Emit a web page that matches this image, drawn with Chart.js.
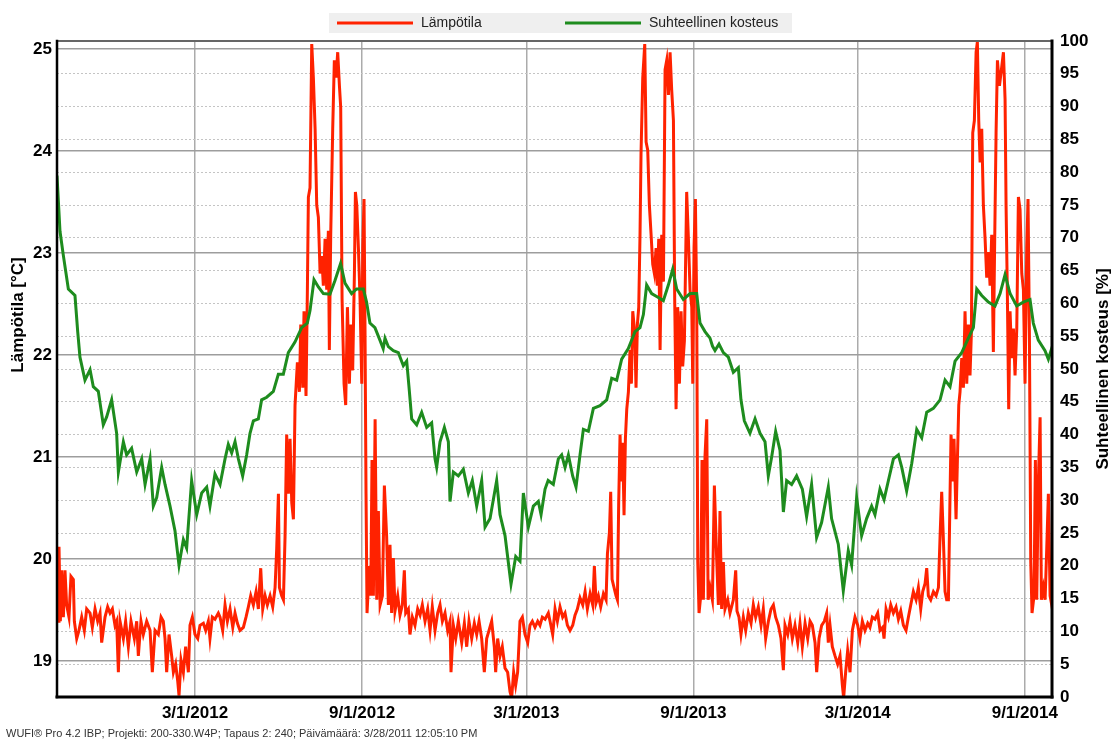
<!DOCTYPE html>
<html>
<head>
<meta charset="utf-8">
<title>Lämpötila ja suhteellinen kosteus</title>
<script src="https://cdn.jsdelivr.net/npm/chart.js"></script>
<style>
    body { margin: 0; background: #fff; }
    canvas { display: block; }
</style>
</head>
<body>
<canvas id="wufiChart" width="1113" height="740"></canvas>

<script>
    // x values are days counted from 10/1/2011
    const startDate = Date.UTC(2011, 9, 1);
    const dateLabels = ['3/1/2012', '9/1/2012', '3/1/2013', '9/1/2013', '3/1/2014', '9/1/2014'];
    const tempTicks = [19, 20, 21, 22, 23, 24, 25];
    const rhTicks = [0, 5, 10, 15, 20, 25, 30, 35, 40, 45, 50, 55, 60, 65, 70, 75, 80, 85, 90, 95, 100];

    // Lämpötila [°C], [day, value]
    const tempWinter1 = [[0,19.39],[1.5,19.39],[2.2,20.12],[3.7,19.39],[5.1,19.89],[7,19.43],[8.8,19.89],[10.6,19.55],[13.2,19.43],[15.4,19.83],[18,19.8],[19.1,19.39],[21.7,19.22],[24.2,19.3],[27.2,19.43],[30.1,19.3],[32.7,19.51],[36.4,19.47],[38.9,19.33],[41.9,19.51],[44.8,19.39],[47.4,19.47],[49.2,19.18],[52.9,19.43],[55.8,19.53],[58.4,19.47],[61,19.51],[63.9,19.35],[65.7,19.39],[67.6,18.89],[69.4,19.39],[73.1,19.22],[75.6,19.39],[78.6,19.14],[81.5,19.39],[85.2,19.22],[87.8,19.39],[89.6,19.05],[92.5,19.39],[95.1,19.26],[98.8,19.39],[102.5,19.3],[105,18.89],[108,19.3],[111.6,19.26],[114.6,19.43],[117.1,19.39],[119,19.22],[120.8,18.89],[123.4,19.26],[126.3,19.05],[128.2,18.89],[130.7,18.97],[133,18.8],[134.4,18.66],[136.6,19.01],[139.2,18.89],[141.7,19.14],[144.7,18.89],[146.5,19.35],[149.1,19.43],[152,19.26],[155,19.22],[157.5,19.35],[161.2,19.37],[163.8,19.3],[166.7,19.39],[168.5,19.22],[171.1,19.43],[174,19.41],[177.7,19.47]];
    const tempSummer1 = [[179.6,19.43],[182.5,19.3],[185.1,19.55],[187.7,19.39],[190.6,19.51],[193.6,19.33],[196.1,19.47],[198.7,19.37],[201.6,19.3],[205.3,19.33],[208.2,19.43],[210.8,19.53],[213.4,19.64],[216.3,19.55],[219.3,19.68],[221.8,19.51],[224.4,19.91],[226.6,19.51],[229.2,19.64],[231.7,19.55],[234.7,19.64],[237.6,19.53],[240.2,19.72],[242,20.1],[243.9,20.64],[245,19.72],[247.5,19.64],[249.4,19.6],[251.2,20.22],[253,21.22],[254.9,20.64],[256.7,21.18],[258.6,20.55],[260.4,20.39],[262.2,21.51],[264.8,21.93],[267,21.64],[268.5,22.3],[270.7,21.68],[272.1,22.43],[274.3,21.6],[275.8,22.64],[276.9,23.55],[278.7,23.64],[280.6,25.05],[282.4,24.72],[284.3,24.22],[286.1,23.47],[287.9,23.35],[289.8,22.8],[291.6,22.97],[293.4,22.68],[295.3,23.14],[297.1,22.64],[298.9,23.22],[300,22.05],[301.5,23.18],[303.7,24.22],[305.5,24.89],[307.4,24.72],[309.2,24.97],[311.1,24.64],[312.5,24.43],[314,22.55],[316.2,21.72],[318,21.51],[319.9,22.47],[322.1,21.72],[323.5,22.3],[325.7,21.85],[327.6,22.8],[328.7,23.6],[330.2,23.47],[332,23.05],[333.8,22.55],[335.7,21.72],[336.8,23.05],[338.2,23.53],[339.3,22.22],[340.4,20.64],[341.5,19.47],[344.1,19.93],[345.6,19.64],[347,20.97],[348.5,19.64],[350.4,21.37],[352.2,19.6],[354,20.47],[355.9,19.55],[358.4,19.64],[360.6,20.72]];
    const tempWinter2 = [[363.1,20.22],[365,19.55],[366.8,20.14],[368.6,19.47],[370.5,20.01],[372.3,19.49],[375.3,19.64],[377.8,19.45],[380.4,19.55],[382.6,19.89],[384.1,19.47],[387,19.51],[388.8,19.26],[391.4,19.43],[394.3,19.35],[397.3,19.51],[399.9,19.45],[402.4,19.55],[405.4,19.39],[408.3,19.51],[410.9,19.3],[413.4,19.53],[416.4,19.3],[419.3,19.47],[421.9,19.55],[424.5,19.39],[427.4,19.47],[430.3,19.3],[432.9,19.39],[434,18.89],[436.6,19.35],[439.2,19.22],[442.1,19.39],[445.8,19.18],[448.7,19.37],[451.3,19.14],[453.8,19.39],[456.8,19.22],[459.7,19.37],[462.3,19.26],[464.9,19.39],[467.8,19.22],[470.7,18.89],[473.3,19.22],[475.9,19.3],[478.8,19.39],[481.7,19.14],[483.2,18.89],[485.4,19.22],[488,19.05],[490.5,19.14],[493.5,18.93],[496.4,18.89],[499,18.7],[500.8,18.64],[503,18.89],[505.2,18.76],[507.4,18.89],[510,19.39],[512.6,19.43],[515.5,19.26],[518.5,19.18],[521,19.35],[523.6,19.39],[526.5,19.33],[529.5,19.39],[532,19.35],[534.6,19.43],[537.6,19.41],[541.2,19.47]];
    const tempSummer2 = [[543.1,19.39],[546,19.26],[548.6,19.51],[551.2,19.39],[554.1,19.53],[557,19.43],[559.6,19.47],[562.2,19.35],[565.1,19.3],[568.1,19.35],[570.6,19.45],[573.2,19.51],[576.1,19.62],[579.1,19.55],[581.7,19.68],[584.2,19.51],[587.2,19.66],[590.1,19.55],[591.9,19.93],[593.8,19.57],[596.3,19.64],[598.9,19.53],[601.9,19.66],[604.8,19.6],[606.3,20.05],[608.5,20.26],[609.9,20.66],[611.4,19.8],[613.6,19.72],[615.8,19.64],[617.3,19.6],[618.7,20.55],[620.2,21.22],[621.7,20.76],[623.1,21.14],[624.6,20.43],[626.1,21.18],[627.6,21.47],[629.4,21.64],[631.2,22.05],[632.7,21.72],[634.2,22.43],[636.4,22.22],[637.8,21.68],[639.3,22.3],[640.8,22.47],[642.2,23.18],[643.3,23.97],[645.2,24.72],[647.4,25.05],[648.9,24.09],[650.7,24.01],[652.5,23.47],[654.4,23.18],[656.2,22.89],[658,22.8],[659.9,23.05],[661.3,22.68],[662.8,23.14],[664.3,22.05],[666.1,23.18],[668,22.72],[669.8,24.8],[671.6,24.89],[673.5,24.55],[675.3,24.97],[677.1,24.6],[679,24.3],[680.4,22.55],[681.9,21.47],[683.7,22.47],[685.6,21.72],[687.4,22.43],[689.2,21.89],[691.1,22.14],[693.6,23.6],[695.5,23.14],[697.3,22.64],[699.2,22.47],[700.3,21.72],[701.7,23.05],[703.2,23.53],[704.7,22.43],[705.8,19.97],[707.2,19.47],[709.1,19.64],[710.5,20.97],[712,19.6],[713.8,21.01],[715.7,21.37],[717.2,19.6],[719.4,19.72],[721.9,19.6],[724.1,20.72]];
    const tempWinter3 = [[726.6,20.01],[728.5,19.55],[730.3,20.47],[732.1,19.51],[734,19.97],[735.8,19.51],[738.8,19.6],[741.3,19.47],[745,19.6],[747.6,19.89],[749,19.49],[751.2,19.43],[753.4,19.26],[756,19.43],[758.6,19.3],[761.5,19.47],[764.5,19.37],[767,19.55],[769.6,19.43],[772.5,19.53],[775.5,19.35],[778,19.51],[780.6,19.22],[783.6,19.39],[786.5,19.51],[789.1,19.55],[791.6,19.43],[794.6,19.35],[797.5,19.22],[800.1,18.91],[801.9,19.35],[804.9,19.26],[807.4,19.39],[810,19.22],[812.9,19.35],[815.9,19.18],[818.4,19.37],[821,19.14],[824,19.37],[826.9,19.22],[829.5,19.39],[832,19.35],[835,19.18],[836.8,18.89],[839.4,19.22],[842.3,19.35],[845.2,19.39],[847.8,19.47],[849.6,19.18],[851.5,19.35],[854,19.14],[857,19.05],[859.9,18.97],[862.5,19.05],[865.1,18.76],[866.5,18.64],[868.7,18.89],[870.9,19.1],[873.5,18.89],[876.1,19.3],[879,19.43],[882,19.35],[884.5,19.22],[887.1,19.39],[890,19.3],[893,19.37],[895.5,19.33],[898.1,19.43],[901,19.41],[904,19.47],[906.6,19.3]];
    const tempSummer3 = [[909.5,19.33],[911,19.22],[913.2,19.51],[915.8,19.43],[918.4,19.55],[921.3,19.47],[924.2,19.53],[926.8,19.41],[929.4,19.49],[932.3,19.35],[935.2,19.3],[937.8,19.43],[940.4,19.55],[943.3,19.68],[946.3,19.6],[948.8,19.72],[951.4,19.51],[953.6,19.68],[956.2,19.76],[958,19.91],[959.8,19.64],[962.4,19.6],[965.4,19.68],[968.3,19.64],[970.9,19.72],[972.7,20.22],[974.5,20.66],[976.4,20.18],[978.2,19.68],[980,19.6],[981.9,19.6],[983.7,20.64],[984.8,21.22],[986.6,20.76],[988.1,21.18],[990.3,20.39],[991.8,20.97],[993.3,21.51],[994.7,21.64],[996.6,21.97],[998.4,21.68],[1000.2,22.43],[1002.1,21.72],[1003.9,22.3],[1005.7,21.8],[1007.2,22.22],[1008.7,24.18],[1010.5,24.3],[1012.4,24.97],[1013.8,25.07],[1015.3,24.3],[1016.8,23.89],[1018.6,24.22],[1020.4,23.47],[1022.3,23.14],[1024.1,22.76],[1025.9,23.01],[1027.8,22.68],[1029.6,23.18],[1031.4,22.03],[1032.9,23.14],[1034.4,24.18],[1035.9,24.89],[1038.1,24.64],[1040.3,24.8],[1042.5,24.97],[1044.3,24.51],[1045.4,23.47],[1046.9,22.55],[1048.3,21.47],[1049.8,22.43],[1051.6,21.97],[1053.5,22.26],[1055.3,21.8],[1057.2,22.26],[1059,23.55],[1060.8,23.43],[1062.7,22.8],[1064.5,22.64],[1066.3,21.72],[1068.2,23.05],[1069.6,23.53],[1071.1,22.22],[1072.6,19.97],[1074,19.47],[1076.2,19.64],[1077.7,20.97],[1079.2,19.6],[1081,20.76],[1082.9,21.39],[1084.3,19.6],[1086.5,19.72],[1088.4,19.6],[1090.2,20.1],[1092,20.64],[1093.9,19.64],[1095.7,19.55],[1096,19.6]];

    // Suhteellinen kosteus [%], [day, value]
    const rhWinter1 = [[0,79.5],[3.3,71],[6.9,67.4],[12.5,62.2],[19.8,61.2],[22.8,55.7],[25.3,51.8],[30.8,48.3],[36.4,49.9],[40,47.3],[45.5,46.6],[51,41.5],[54.7,42.7],[60.2,45.3],[65.7,40.2],[67.6,34.3],[73.1,38.9],[76.7,36.9],[82.2,37.9],[87.8,34.3],[93.3,36.3],[97,32.4],[102.5,36.3],[106.1,29.1],[109.8,30.4],[115.3,35],[119,32.4],[124.5,29.1],[130,25.3],[134.4,20.1],[139.2,24],[142.8,22.7],[148.3,33],[153.9,27.8],[159.4,31.1],[164.9,32],[168.5,29.1],[174,34]];
    const rhSummer1 = [[179.6,32.4],[185.1,36.3],[188.7,38.5],[192.4,37.2],[196.1,38.9],[199.8,36.3],[204.5,33.7],[208.9,36.9],[212.6,40.2],[216.3,42.1],[221.8,42.4],[225.4,45.3],[231,45.7],[238.3,46.6],[243.8,49.2],[249.3,49.2],[254.8,52.5],[262.1,54.1],[269.5,56.3],[275.7,57],[278.7,58.9],[283.1,63.6],[287.9,62.5],[293.4,61.5],[300.7,61.4],[306.2,63.5],[312.4,66.1],[317.2,63.1],[324.5,61.5],[330,62.2],[337.4,62.2],[341,60.2],[344.7,57],[350.2,56.3],[355.7,54.4],[359.3,53.1]];
    const rhWinter2 = [[361.3,54.7],[365,53.4],[370.5,52.8],[376,52.5],[381.5,50.5],[385.2,51.2],[387.7,47.3],[390.7,42.4],[396.2,41.5],[401.7,43.4],[407.2,41.1],[412.7,41.8],[416.4,36.3],[418.2,35],[421.9,38.9],[426.7,41.1],[431.1,38.9],[432.9,29.8],[436.6,34.3],[442.1,33.7],[447.6,34.7],[453.1,31.1],[457.5,33],[462.3,29.1],[467.8,33],[471.5,25.9],[477,27.2],[484.3,33],[488,27.8],[493.5,24.6],[500.1,17.2],[505.3,21.4],[510,20.7],[513.7,31.1],[519.2,25.9],[524.7,29.1],[530.2,29.8],[533.2,27.8],[537.6,31.7],[541,33]];
    const rhSummer2 = [[546.7,32.4],[552.2,36.3],[555.9,36.9],[559.6,35],[563.3,36.9],[568,33.7],[571.7,32],[576.1,36.9],[579.8,40.8],[585.3,40.5],[590.8,44],[598.1,44.4],[605.5,45.3],[611,48.6],[616.5,48.3],[622,51.5],[629.3,53.1],[636.7,55.7],[642.2,56.3],[645.9,58.3],[649.5,62.8],[655,61.5],[662.4,60.9],[667.9,60.4],[673.4,62.8],[678.2,65.2],[682.6,62.2],[689.9,60.6],[697.3,61.5],[704.6,61.5],[708.3,57],[713.8,55.7],[719.3,54.7],[722,53.5]];
    const rhWinter3 = [[724.8,52.8],[729.2,53.8],[734,52.5],[739.5,51.8],[745,49.5],[750.5,50.2],[753.4,45.3],[757.1,42.1],[763.3,40.2],[768.9,42.4],[774.4,40.2],[779.9,38.9],[783.5,33.7],[787.2,36.6],[791.6,40.5],[796.4,37.6],[800.1,28.2],[803.7,33],[809.2,32.4],[814.7,33.7],[821,31.7],[825.7,27.5],[831.2,32.4],[836.7,24.3],[842.2,26.6],[849.6,32],[853.2,27.2],[860.6,23.3],[866.1,16.2],[871.6,22.3],[875.3,20.1],[880.8,30.4],[886.3,24.6],[891.8,27.2],[897.3,29.1],[901,27.8],[906.5,31.7]];
    const rhSummer3 = [[911,30.1],[915.8,33],[921.3,36.3],[926.8,36.9],[930.5,35],[935.9,31.4],[941.5,35.6],[947,40.8],[952.5,39.5],[958,43.4],[965.3,44],[972.7,45.3],[978.2,48.3],[983.7,47.3],[989.2,51.2],[996.5,52.5],[1003.9,54.7],[1009.4,56.3],[1013.1,62.2],[1018.6,61.2],[1025.9,60.2],[1033.2,59.6],[1038.8,61.5],[1044.3,64.4],[1049.8,61.5],[1057.1,59.6],[1064.4,60.2],[1071.8,60.6],[1075.4,57],[1080.9,54.4],[1088.3,52.8],[1092,51.5],[1095.6,53.1],[1096,52.8]];

    const footerText = 'WUFI® Pro 4.2 IBP; Projekti: 200-330.W4P; Tapaus 2: 240; Päivämäärä: 3/28/2011 12:05:10 PM';

    function dayOf(label) {
        const [m, d, y] = label.split('/').map(Number);
        return (Date.UTC(y, m - 1, d) - startDate) / 86400000;
    }
    const tickDays = dateLabels.map(dayOf);
    const toPoints = (...parts) => parts.flat().map(([x, y]) => ({ x, y }));

    const tempData = toPoints(tempWinter1, tempSummer1, tempWinter2, tempSummer2, tempWinter3, tempSummer3);
    const rhData = toPoints(rhWinter1, rhSummer1, rhWinter2, rhSummer2, rhWinter3, rhSummer3);

    const FONT = "'Liberation Sans', Arial, Helvetica, sans-serif";

    // frame, legend, axis titles and footer
    const decorations = {
        id: 'decorations',
        afterDatasetsDraw(chart) {
            const { ctx, chartArea: a } = chart;
            const seg = (x1, y1, x2, y2, color, w) => {
                ctx.beginPath();
                ctx.strokeStyle = color;
                ctx.lineWidth = w;
                ctx.moveTo(x1, y1);
                ctx.lineTo(x2, y2);
                ctx.stroke();
            };
            ctx.save();
            ctx.lineCap = 'square';
            seg(a.left, a.top, a.right, a.top, '#666', 2);
            seg(a.left, a.top, a.left, a.bottom, '#000', 2.5);
            seg(a.right, a.top, a.right, a.bottom, '#000', 3);
            seg(a.left, a.bottom, a.right, a.bottom, '#000', 3);
            ctx.restore();
        },
        afterDraw(chart) {
            const { ctx } = chart;
            const ds = chart.data.datasets;
            ctx.save();

            // legend
            ctx.fillStyle = '#efefef';
            ctx.fillRect(329, 13, 463, 20);
            const items = [{ x: 337, d: ds[0] }, { x: 565, d: ds[1] }];
            ctx.font = '14px ' + FONT;
            ctx.textBaseline = 'middle';
            ctx.textAlign = 'left';
            items.forEach(it => {
                ctx.beginPath();
                ctx.strokeStyle = it.d.borderColor;
                ctx.lineWidth = 3;
                ctx.moveTo(it.x, 23);
                ctx.lineTo(it.x + 76, 23);
                ctx.stroke();
                ctx.fillStyle = '#222';
                ctx.fillText(it.d.label, it.x + 84, 23);
            });

            // axis titles
            ctx.font = 'bold 17px ' + FONT;
            ctx.fillStyle = '#000';
            ctx.textAlign = 'center';
            ctx.save();
            ctx.translate(18, 315);
            ctx.rotate(-Math.PI / 2);
            ctx.fillText('Lämpötila [°C]', 0, 0);
            ctx.restore();
            ctx.save();
            ctx.translate(1103, 369);
            ctx.rotate(-Math.PI / 2);
            ctx.fillText('Suhteellinen kosteus [%]', 0, 0);
            ctx.restore();

            // footer
            ctx.font = '11px ' + FONT;
            ctx.fillStyle = '#333';
            ctx.textAlign = 'left';
            ctx.textBaseline = 'alphabetic';
            ctx.fillText(footerText, 6, 737);
            ctx.restore();
        }
    };

    const tickFont = { family: FONT, size: 17, weight: 'bold' };

    new Chart(document.getElementById('wufiChart').getContext('2d'), {
        type: 'line',
        data: {
            datasets: [{
                label: 'Lämpötila',
                data: tempData,
                yAxisID: 'yTemp',
                borderColor: '#ff2200',
                borderWidth: 3,
                pointRadius: 0,
                tension: 0,
                order: 1
            }, {
                label: 'Suhteellinen kosteus',
                data: rhData,
                yAxisID: 'yRh',
                borderColor: '#1e8c1e',
                borderWidth: 3,
                pointRadius: 0,
                tension: 0,
                order: 0
            }]
        },
        options: {
            responsive: false,
            animation: false,
            layout: { padding: { top: 41, left: 0, right: 0, bottom: 0 } },
            plugins: {
                legend: { display: false },
                tooltip: { enabled: false }
            },
            scales: {
                x: {
                    type: 'linear',
                    min: 0,
                    max: 1096,
                    afterBuildTicks: scale => { scale.ticks = tickDays.map(v => ({ value: v })); },
                    afterFit: scale => { scale.height = 43; },
                    ticks: {
                        autoSkip: false,
                        maxRotation: 0,
                        padding: 6,
                        color: '#000',
                        font: tickFont,
                        callback: (v, i) => dateLabels[i]
                    },
                    grid: { color: '#ababab', lineWidth: 1.5, drawTicks: false },
                    border: { display: false }
                },
                yTemp: {
                    position: 'left',
                    min: 18.647,
                    max: 25.08,
                    afterBuildTicks: scale => { scale.ticks = tempTicks.map(v => ({ value: v })); },
                    afterFit: scale => { scale.width = 57; },
                    ticks: { padding: 5, color: '#000', font: tickFont },
                    grid: { color: '#9d9d9d', lineWidth: 1.5, drawTicks: false },
                    border: { display: false }
                },
                yRh: {
                    position: 'right',
                    min: 0,
                    max: 100,
                    afterBuildTicks: scale => { scale.ticks = rhTicks.map(v => ({ value: v })); },
                    afterFit: scale => { scale.width = 61; },
                    ticks: { padding: 8, color: '#000', font: tickFont },
                    grid: { color: '#c4c4c4', lineWidth: 1, drawTicks: false },
                    border: { display: false, dash: [2, 2] }
                }
            }
        },
        plugins: [decorations]
    });
</script>
</body>
</html>
